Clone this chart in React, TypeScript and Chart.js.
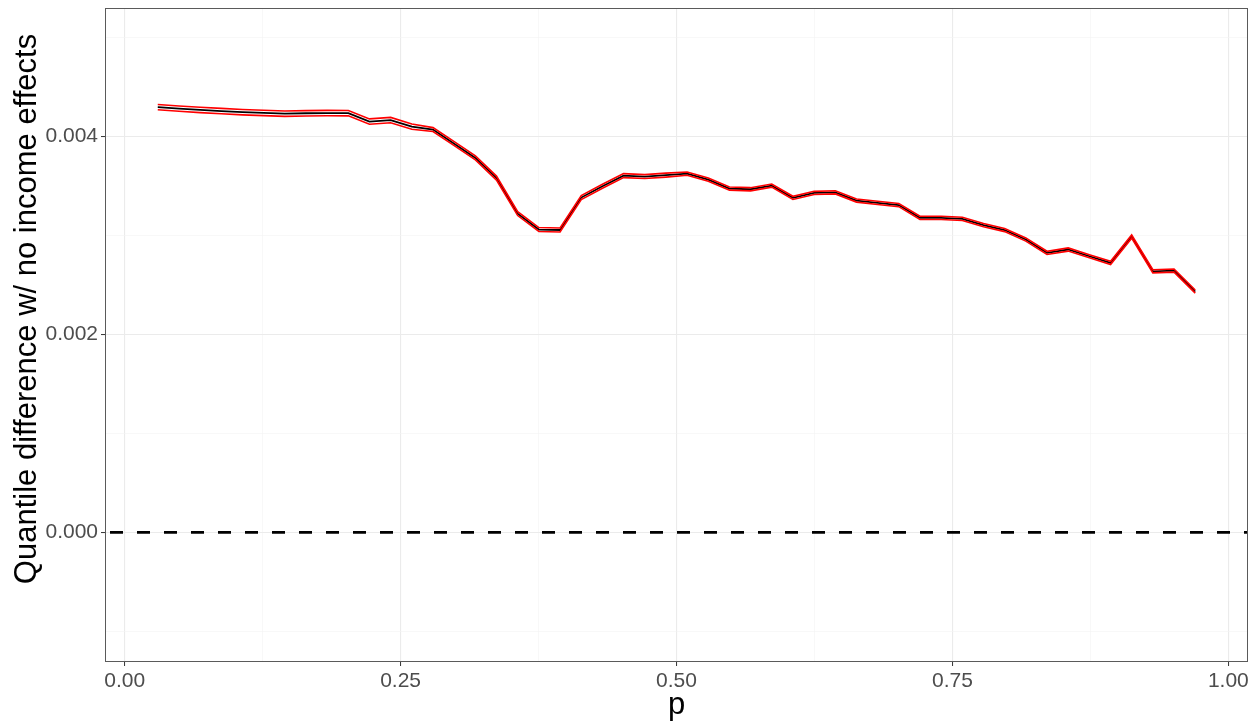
import { useEffect, useRef } from "react";
import { Chart, registerables } from "chart.js";

Chart.register(...registerables);

// Quantile grid
const pValues = [
  0.03, 0.0492, 0.0684, 0.0876, 0.1067, 0.1259, 0.1451, 0.1643, 0.1835, 0.2027,
  0.2218, 0.241, 0.2602, 0.2794, 0.2986, 0.3178, 0.3369, 0.3561, 0.3753, 0.3945,
  0.4137, 0.4329, 0.452, 0.4712, 0.4904, 0.5096, 0.5288, 0.548, 0.5671, 0.5863,
  0.6055, 0.6247, 0.6439, 0.6631, 0.6822, 0.7014, 0.7206, 0.7398, 0.759, 0.7782,
  0.7973, 0.8165, 0.8357, 0.8549, 0.8741, 0.8933, 0.9124, 0.9316, 0.9508, 0.97,
];

// Point estimate of the quantile difference
const meanDiff = [
  0.004298, 0.004283, 0.00427, 0.004258, 0.004247, 0.004239, 0.004232, 0.004236, 0.004238, 0.004237,
  0.004152, 0.004167, 0.004101, 0.004071, 0.003929, 0.003785, 0.003581, 0.003222, 0.003061, 0.003056,
  0.003384, 0.003498, 0.003606, 0.003596, 0.003611, 0.003626, 0.003566, 0.003475, 0.003468, 0.003505,
  0.003381, 0.003431, 0.003437, 0.003354, 0.00333, 0.003308, 0.003179, 0.003179, 0.003169, 0.003106,
  0.003056, 0.00296, 0.002825, 0.002859, 0.002791, 0.002724, 0.00299, 0.002639, 0.002646, 0.002434,
];

// Upper confidence bound
const upperBand = [
  0.004325, 0.00431, 0.004297, 0.004285, 0.004274, 0.004266, 0.004259, 0.004263, 0.004265, 0.004264,
  0.004179, 0.004194, 0.004128, 0.004091, 0.003949, 0.003805, 0.003601, 0.003242, 0.003081, 0.003076,
  0.003404, 0.003518, 0.003626, 0.003616, 0.003631, 0.003642, 0.003582, 0.003491, 0.003484, 0.003521,
  0.003397, 0.003447, 0.003453, 0.00337, 0.003346, 0.003324, 0.003195, 0.003195, 0.003185, 0.003122,
  0.003072, 0.002976, 0.002841, 0.002875, 0.002807, 0.00274, 0.003006, 0.002655, 0.002662, 0.00245,
];

// Lower confidence bound
const lowerBand = [
  0.004271, 0.004256, 0.004243, 0.004231, 0.00422, 0.004212, 0.004205, 0.004209, 0.004211, 0.00421,
  0.004125, 0.00414, 0.004074, 0.004051, 0.003909, 0.003765, 0.003561, 0.003202, 0.003041, 0.003036,
  0.003364, 0.003478, 0.003586, 0.003576, 0.003591, 0.00361, 0.00355, 0.003459, 0.003452, 0.003489,
  0.003365, 0.003415, 0.003421, 0.003338, 0.003314, 0.003292, 0.003163, 0.003163, 0.003153, 0.00309,
  0.00304, 0.002944, 0.002809, 0.002843, 0.002775, 0.002708, 0.002974, 0.002623, 0.00263, 0.002418,
];

const xMajorTicks = [0, 0.25, 0.5, 0.75, 1];
const xTickLabels = ["0.00", "0.25", "0.50", "0.75", "1.00"];
const xMinorTicks = [0.125, 0.375, 0.625, 0.875];

const yMajorTicks = [0, 0.002, 0.004];
const yTickLabels = ["0.000", "0.002", "0.004"];
const yMinorTicks = [-0.001, 0.001, 0.003, 0.005];

const referenceLevel = 0;

const xTitle = "p";
const yTitle = "Quantile difference w/ no income effects";

const FONT = "'Liberation Sans', Arial, Helvetica, sans-serif";

const isIn = (list: number[], v: number) => list.some((m) => Math.abs(m - v) < 1e-9);
const labelFor = (list: number[], labels: string[], v: number) => {
  const i = list.findIndex((m) => Math.abs(m - v) < 1e-9);
  return i >= 0 ? labels[i] : "";
};

const toPoints = (ys: number[]) => pValues.map((x, i) => ({ x, y: ys[i] }));

// Dashed reference line, panel border and the vertical axis title
const panelDecor = {
  id: "panelDecor",
  beforeDatasetsDraw(chart: any) {
    const { ctx, chartArea, scales } = chart;
    const y = scales.y.getPixelForValue(referenceLevel);
    ctx.save();
    ctx.beginPath();
    ctx.rect(chartArea.left, chartArea.top, chartArea.right - chartArea.left, chartArea.bottom - chartArea.top);
    ctx.clip();
    ctx.strokeStyle = "#000000";
    ctx.lineWidth = 2.8;
    ctx.setLineDash([13, 14]);
    ctx.beginPath();
    ctx.moveTo(chartArea.left + 4, y);
    ctx.lineTo(chartArea.right, y);
    ctx.stroke();
    ctx.restore();
  },
  afterDraw(chart: any) {
    const { ctx, chartArea } = chart;
    ctx.save();
    ctx.strokeStyle = "#5a5a5a";
    ctx.lineWidth = 1;
    ctx.strokeRect(
      Math.round(chartArea.left) - 0.5,
      Math.round(chartArea.top) + 0.5,
      Math.round(chartArea.right - chartArea.left) + 1,
      Math.round(chartArea.bottom - chartArea.top)
    );
    ctx.translate(27, 309);
    ctx.rotate(-Math.PI / 2);
    ctx.fillStyle = "#000000";
    ctx.font = `31px ${FONT}`;
    ctx.textAlign = "center";
    ctx.textBaseline = "middle";
    ctx.fillText(yTitle, 0, 0);
    ctx.restore();
  },
};

export default function App() {
  const canvasRef = useRef<HTMLCanvasElement | null>(null);

  useEffect(() => {
    const canvas = canvasRef.current;
    if (!canvas) return;

    const chart = new Chart(canvas, {
      type: "line",
      data: {
        datasets: [
          {
            label: "upper",
            data: toPoints(upperBand),
            borderColor: "#FF0000",
            borderWidth: 1.6,
            pointRadius: 0,
            tension: 0,
            fill: false,
          },
          {
            label: "lower",
            data: toPoints(lowerBand),
            borderColor: "#FF0000",
            borderWidth: 1.6,
            pointRadius: 0,
            tension: 0,
            fill: false,
          },
          {
            label: "estimate",
            data: toPoints(meanDiff),
            borderColor: "#000000",
            borderWidth: 1.8,
            pointRadius: 0,
            tension: 0,
            fill: false,
          },
        ],
      },
      options: {
        animation: false,
        responsive: false,
        devicePixelRatio: 1,
        layout: { padding: { top: 8, right: 13, bottom: 0, left: 0 } },
        plugins: {
          legend: { display: false },
          tooltip: { enabled: false },
        },
        scales: {
          x: {
            type: "linear",
            min: -0.0169,
            max: 1.0169,
            afterBuildTicks: (scale: any) => {
              scale.ticks = [...xMajorTicks, ...xMinorTicks].sort((a, b) => a - b).map((value) => ({ value }));
            },
            afterFit: (scale: any) => {
              scale.height = 63;
              scale.paddingLeft = 0;
              scale.paddingRight = 0;
            },
            border: { display: false },
            grid: {
              color: (c: any) => (isIn(xMajorTicks, c.tick.value) ? "#EBEBEB" : "#F4F4F4"),
              lineWidth: (c: any) => (isIn(xMajorTicks, c.tick.value) ? 1.1 : 0.6),
              tickColor: (c: any) => (isIn(xMajorTicks, c.tick.value) ? "#333333" : "rgba(0,0,0,0)"),
              tickLength: 5,
              tickWidth: 1,
            },
            ticks: {
              autoSkip: false,
              maxRotation: 0,
              padding: 3,
              color: "#4D4D4D",
              font: { family: FONT, size: 21 },
              callback: (v: any) => labelFor(xMajorTicks, xTickLabels, Number(v)),
            },
            title: {
              display: true,
              text: xTitle,
              color: "#000000",
              font: { family: FONT, size: 31 },
              padding: { top: 0, bottom: 0 },
            },
          },
          y: {
            type: "linear",
            min: -0.0013,
            max: 0.0053,
            afterBuildTicks: (scale: any) => {
              scale.ticks = [...yMajorTicks, ...yMinorTicks].sort((a, b) => a - b).map((value) => ({ value }));
            },
            afterFit: (scale: any) => {
              scale.width = 106;
              scale.paddingTop = 0;
              scale.paddingBottom = 0;
            },
            border: { display: false },
            grid: {
              color: (c: any) => (isIn(yMajorTicks, c.tick.value) ? "#EBEBEB" : "#F4F4F4"),
              lineWidth: (c: any) => (isIn(yMajorTicks, c.tick.value) ? 1.1 : 0.6),
              tickColor: (c: any) => (isIn(yMajorTicks, c.tick.value) ? "#333333" : "rgba(0,0,0,0)"),
              tickLength: 5,
              tickWidth: 1,
            },
            ticks: {
              autoSkip: false,
              padding: 3,
              color: "#4D4D4D",
              font: { family: FONT, size: 21 },
              callback: (v: any) => labelFor(yMajorTicks, yTickLabels, Number(v)),
            },
          },
        },
      },
      plugins: [panelDecor],
    } as any);

    return () => chart.destroy();
  }, []);

  return (
    <div style={{ position: "fixed", left: 0, top: 0, width: 1260, height: 724, background: "#FFFFFF" }}>
      <canvas ref={canvasRef} width={1260} height={724} style={{ display: "block" }} />
    </div>
  );
}
